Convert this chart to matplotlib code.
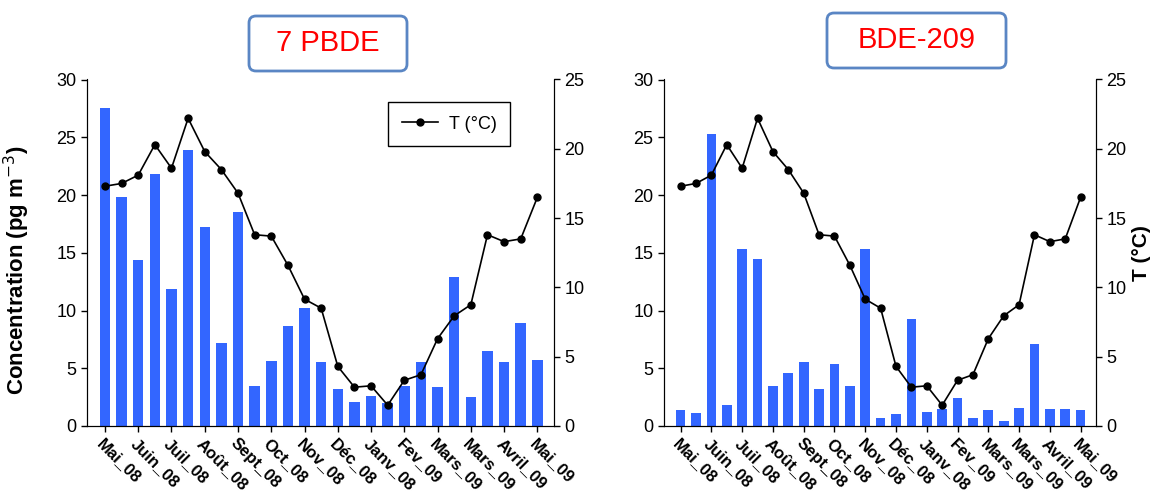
import numpy as np
import matplotlib
matplotlib.use('Agg')
from matplotlib import pyplot as plt
from matplotlib.patches import FancyBboxPatch

plt.rcParams['font.family'] = ['Liberation Sans', 'DejaVu Sans']

# month labels (one every two samples)
month_labels = ['Mai_08', 'Juin_08', 'Juil_08', 'Août_08', 'Sept_08', 'Oct_08', 'Nov_08',
                'Déc_08', 'Janv_08', 'Fev_09', 'Mars_09', 'Mars_09', 'Avril_09', 'Mai_09']

# concentrations (pg m-3), 27 samples
pbde7 = [27.5, 19.8, 14.4, 21.8, 11.9, 23.9, 17.2, 7.2, 18.5, 3.5, 5.6, 8.7, 10.2, 5.5,
         3.2, 2.1, 2.6, 2.0, 3.5, 5.5, 3.4, 12.9, 2.5, 6.5, 5.5, 8.9, 5.7]
bde209 = [1.35, 1.15, 25.3, 1.8, 15.3, 14.5, 3.5, 4.6, 5.5, 3.2, 5.4, 3.5, 15.3, 0.7,
          1.0, 9.25, 1.25, 1.45, 2.45, 0.7, 1.35, 0.4, 1.6, 7.1, 1.45, 1.45, 1.35]

# temperature (°C)
temp = [17.3, 17.5, 18.1, 20.3, 18.6, 22.2, 19.8, 18.5, 16.8, 13.8, 13.7, 11.6, 9.15, 8.5,
        4.3, 2.8, 2.9, 1.5, 3.3, 3.7, 6.3, 7.95, 8.75, 13.8, 13.3, 13.5, 16.5]

x = np.arange(len(temp))
bar_color = '#3366ff'

fig = plt.figure(figsize=(11.6, 4.92), dpi=100)
ax_pos = [[87/1160, 66/492, 467/1160, 346.5/492],
          [664/1160, 66/492, 432/1160, 346.5/492]]
series = [pbde7, bde209]

for k in range(2):
    ax = fig.add_axes(ax_pos[k])
    ax.bar(x, series[k], width=0.63, color=bar_color, zorder=1)
    ax.set_xlim(-1.08, len(x) - 1 + 1.0)
    ax.set_ylim(0, 30)
    ax.set_yticks(np.arange(0, 31, 5))
    ax.set_xticks(x[::2])
    ax.set_xticklabels(month_labels, rotation=-45, ha='left', va='top',
                       rotation_mode='anchor', fontsize=12, fontweight='bold')
    ax.tick_params(axis='y', labelsize=13, direction='out', length=4, width=1)
    ax.tick_params(axis='x', direction='out', length=4, width=1, pad=3)
    ax.spines['top'].set_visible(False)

    axt = ax.twinx()
    axt.plot(x, temp, color='black', lw=1.2, marker='o', ms=5, label='T (°C)', zorder=3)
    axt.set_ylim(0, 25)
    axt.set_yticks(np.arange(0, 26, 5))
    axt.tick_params(axis='y', labelsize=13, direction='out', length=4, width=1)
    axt.spines['top'].set_visible(False)

    if k == 0:
        ax.set_ylabel('Concentration (pg m$^{-3}$)', fontsize=16, fontweight='bold')
        ax.yaxis.set_label_coords(-0.118, 0.45)
        leg = axt.legend(loc='upper left', bbox_to_anchor=(0.645, 0.935), borderaxespad=0,
                         fancybox=False, edgecolor='black', framealpha=1, fontsize=13,
                         handlelength=2.0, borderpad=0.75, handletextpad=0.6)
        leg.get_frame().set_linewidth(1.0)
    else:
        axt.set_ylabel('T (°C)', fontsize=15, fontweight='bold', labelpad=4)

# title boxes (pixel positions -> inches)
titles = ['7 PBDE', 'BDE-209']
boxes = [(249, 16, 158, 55), (827, 13, 179, 55)]
pad = 0.07
for t, (bx, by, bw, bh) in zip(titles, boxes):
    x0 = bx / 100
    y0 = (492 - by - bh) / 100
    w = bw / 100
    h = bh / 100
    p = FancyBboxPatch((x0 + pad, y0 + pad), w - 2 * pad, h - 2 * pad,
                       boxstyle='round,pad=%g' % pad, transform=fig.dpi_scale_trans,
                       facecolor='white', edgecolor='#5a86c4', lw=2.0)
    fig.patches.append(p)
    fig.text(x0 + w / 2, y0 + h / 2, t, transform=fig.dpi_scale_trans,
             ha='center', va='center', color='red', fontsize=21)

plt.savefig('out.png', dpi=100)
